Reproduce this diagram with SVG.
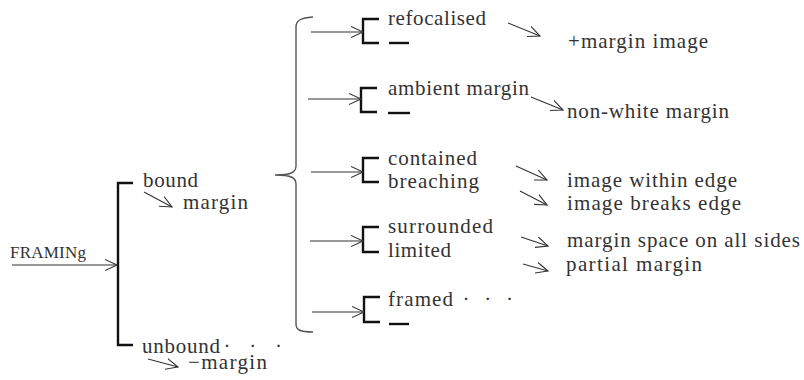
<svg xmlns="http://www.w3.org/2000/svg" width="804" height="380" viewBox="0 0 804 380">
<defs>
<marker id="ah" markerUnits="userSpaceOnUse" markerWidth="14" markerHeight="12" refX="12" refY="6" orient="auto">
<path d="M0,0.5 L12,6 L0,11.5" fill="none" stroke="#333" stroke-width="1.1"/>
</marker>
<style>
text{font-family:"Liberation Serif","Times New Roman",serif;font-size:21px;fill:#333}
.sm{font-size:17px}
.ln{stroke:#333;stroke-width:1.1;fill:none}
.br{stroke:#111;stroke-width:2.4;fill:none}
.brace{stroke:#555;stroke-width:1.4;fill:none}
</style>
</defs>
<rect width="804" height="380" fill="#fff"/>
<g id="framing"><text class="sm" x="10" y="258" textLength="76">FRAMINg</text></g>
<g id="main-bracket"><path class="br" d="M133,183 H118 V345 H133"/></g>
<g id="bound"><text x="143" y="187" textLength="55">bound</text><text x="183" y="209" textLength="65">margin</text></g>
<g id="unbound"><text x="142" y="353" textLength="78">unbound</text><text x="223.4" y="353" style="word-spacing:13.5px">· · ·</text><text x="188" y="369" textLength="79">−margin</text></g>
<g id="brace"><path class="brace" d="M313,17 C301,18 296,20 296,27 L296,166 C296,172 292,175 275,175 C292,175 296,178 296,184 L296,324 C296,330 300,332 313,332"/></g>
<g id="refocalised"><path class="br" d="M379,19 H363 V43 H379"/><line class="br" x1="389" y1="43" x2="409" y2="43"/><text x="388" y="25" textLength="98">refocalised</text></g>
<g id="ambient"><path class="br" d="M377,88 H361 V112 H377"/><line class="br" x1="388" y1="113" x2="410" y2="113"/><text x="388" y="95" textLength="141">ambient margin</text></g>
<g id="contained"><path class="br" d="M379,158 H363 V182 H379"/><text x="388" y="165" textLength="89">contained</text><text x="388" y="188" textLength="91">breaching</text></g>
<g id="surrounded"><path class="br" d="M379,227 H363 V252 H379"/><text x="388" y="233" textLength="105">surrounded</text><text x="388" y="257" textLength="63">limited</text></g>
<g id="framed"><path class="br" d="M380,297 H364 V322 H380"/><line class="br" x1="389" y1="324" x2="409" y2="324"/><text x="388" y="306" textLength="65">framed</text><text x="462.4" y="306" style="word-spacing:9.5px">· · ·</text></g>
<g id="margin-image"><text x="568" y="48" textLength="140">+margin image</text></g>
<g id="non-white"><text x="567" y="118" textLength="162">non-white margin</text></g>
<g id="within"><text x="567" y="187" textLength="170">image within edge</text></g>
<g id="breaks"><text x="567" y="210" textLength="174">image breaks edge</text></g>
<g id="all-sides"><text x="567" y="247" textLength="233">margin space on all sides</text></g>
<g id="partial"><text x="566" y="271" textLength="136">partial margin</text></g>
<g id="connectors">
<line class="ln" x1="12" y1="265" x2="117" y2="265" marker-end="url(#ah)"/>
<line class="ln" x1="144" y1="192" x2="172" y2="207" marker-end="url(#ah)"/>
<line class="ln" x1="148" y1="359" x2="178" y2="367" marker-end="url(#ah)"/>
<line class="ln" x1="311" y1="32" x2="363" y2="32" marker-end="url(#ah)"/>
<line class="ln" x1="308" y1="99" x2="361" y2="99" marker-end="url(#ah)"/>
<line class="ln" x1="311" y1="172" x2="363" y2="172" marker-end="url(#ah)"/>
<line class="ln" x1="310" y1="241" x2="363" y2="241" marker-end="url(#ah)"/>
<line class="ln" x1="312" y1="312" x2="364" y2="312" marker-end="url(#ah)"/>
<line class="ln" x1="508" y1="23" x2="540" y2="36" marker-end="url(#ah)"/>
<line class="ln" x1="531" y1="97" x2="563" y2="110" marker-end="url(#ah)"/>
<line class="ln" x1="516" y1="166" x2="547" y2="180" marker-end="url(#ah)"/>
<line class="ln" x1="520" y1="191" x2="547" y2="205" marker-end="url(#ah)"/>
<line class="ln" x1="521" y1="237" x2="548" y2="246" marker-end="url(#ah)"/>
<line class="ln" x1="523" y1="264" x2="548" y2="271" marker-end="url(#ah)"/>
</g>
</svg>
